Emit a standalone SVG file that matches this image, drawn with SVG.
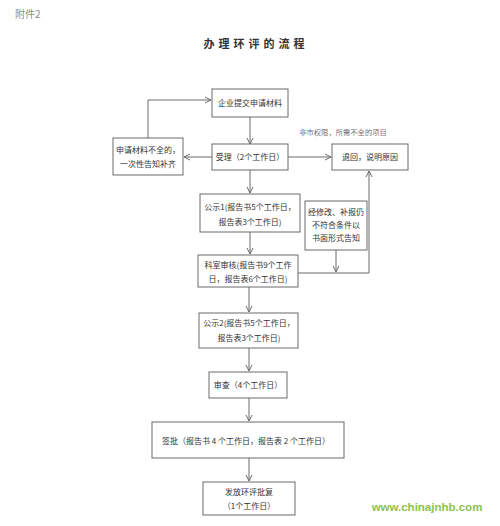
<svg xmlns="http://www.w3.org/2000/svg" width="500" height="526" viewBox="0 0 500 526">
<style>
.box{fill:#fff;stroke:#6a6a6a;stroke-width:1}
.t{font-family:"Noto Sans CJK SC","Noto Sans",sans-serif;font-size:8px;fill:#333;text-anchor:middle}
.c{fill:none;stroke:#6a6a6a;stroke-width:1}
</style>
<defs>
<marker id="ar" viewBox="0 0 8 8" refX="7" refY="4" markerWidth="8" markerHeight="8" markerUnits="userSpaceOnUse" orient="auto">
<path d="M1,1 L7,4 L1,7" fill="none" stroke="#6a6a6a" stroke-width="1"/>
</marker>
</defs>
<rect width="500" height="526" fill="#fff"/>
<text x="15" y="18" font-family="'Noto Sans CJK SC',sans-serif" font-size="10" fill="#8a8a8a">附件2</text>
<text x="256" y="48" font-family="'Noto Sans CJK SC',sans-serif" font-size="11" font-weight="bold" fill="#333" text-anchor="middle" letter-spacing="4">办理环评的流程</text>
<g id="connectors">
<path class="c" d="M148,138 V100 H211" marker-end="url(#ar)"/>
<path class="c" d="M250,117 V144" marker-end="url(#ar)"/>
<path class="c" d="M212,157 H184" marker-end="url(#ar)"/>
<path class="c" d="M288,157 H331" marker-end="url(#ar)"/>
<path class="c" d="M250,170 V193" marker-end="url(#ar)"/>
<path class="c" d="M250,232 V254" marker-end="url(#ar)"/>
<path class="c" d="M249,287 V312" marker-end="url(#ar)"/>
<path class="c" d="M249,348 V371" marker-end="url(#ar)"/>
<path class="c" d="M249,398 V421" marker-end="url(#ar)"/>
<path class="c" d="M249,458 V481" marker-end="url(#ar)"/>
<path class="c" d="M298,273 H369 V171" marker-end="url(#ar)"/>
<path class="c" d="M336,250 V272" marker-end="url(#ar)"/>
<text x="343" y="135" font-family="'Noto Sans CJK SC',serif" font-size="7.3" fill="#777" text-anchor="middle">非市权限，所需不全的项目</text>
</g>
<g id="n1"><rect class="box" x="212" y="89" width="76" height="28"/><text class="t" x="250" y="106">企业提交申请材料</text></g>
<g id="n2"><rect class="box" x="212" y="144" width="76" height="26"/><text class="t" x="250" y="160">受理（2个工作日）</text></g>
<g id="n3"><rect class="box" x="113" y="138" width="70" height="37"/><text class="t" x="148" y="153">申请材料不全的，</text><text class="t" x="148" y="167">一次性告知补齐</text></g>
<g id="n4"><rect class="box" x="332" y="144" width="76" height="26"/><text class="t" x="370" y="160">退回，说明原因</text></g>
<g id="n5"><rect class="box" x="200" y="194" width="100" height="38"/><text class="t" x="250" y="210">公示1(报告书5个工作日，</text><text class="t" x="250" y="225">报告表3个工作日)</text></g>
<g id="n6"><rect class="box" x="305" y="201" width="62" height="49"/><text class="t" x="336" y="215">经修改、补报仍</text><text class="t" x="336" y="228">不符合条件以</text><text class="t" x="336" y="241">书面形式告知</text></g>
<g id="n7"><rect class="box" x="198" y="255" width="100" height="32"/><text class="t" x="248" y="268">科室审核(报告书9个工作</text><text class="t" x="248" y="282">日，报告表6个工作日)</text></g>
<g id="n8"><rect class="box" x="199" y="313" width="99" height="35"/><text class="t" x="249" y="326">公示2(报告书5个工作日，</text><text class="t" x="249" y="341">报告表3个工作日)</text></g>
<g id="n9"><rect class="box" x="209" y="372" width="78" height="26"/><text class="t" x="248" y="388">审查（4个工作日）</text></g>
<g id="n10"><rect class="box" x="152" y="422" width="192" height="36"/><text class="t" x="246" y="444">签批（报告书 4 个工作日，报告表 2 个工作日）</text></g>
<g id="n11"><rect class="box" x="203" y="482" width="92" height="33"/><text class="t" x="249" y="495">发放环评批复</text><text class="t" x="249" y="509">（1个工作日）</text></g>
<text x="427" y="511" font-family="'Liberation Sans',Arial,sans-serif" font-size="11.5" font-weight="bold" fill="#8cc152" text-anchor="middle">www.chinajnhb.com</text>
</svg>
